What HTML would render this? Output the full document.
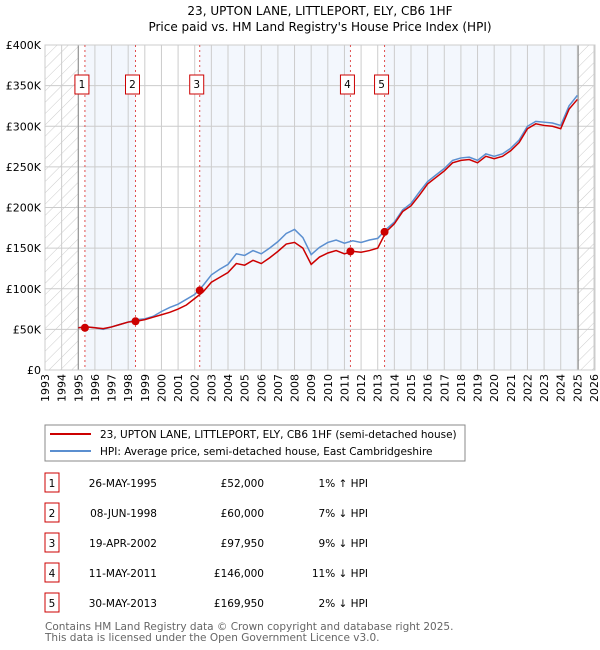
<!DOCTYPE html>
<html><head><meta charset="utf-8"><style>
body{margin:0;width:600px;height:650px;background:#fff;font-family:"DejaVu Sans","Liberation Sans",sans-serif;overflow:hidden}
svg{position:absolute;left:0;top:0}
</style></head><body>
<svg id="c" width="600" height="650">
<text x="320" y="15" text-anchor="middle" font-size="12">23, UPTON LANE, LITTLEPORT, ELY, CB6 1HF</text>
<text x="320" y="31" text-anchor="middle" font-size="12">Price paid vs. HM Land Registry's House Price Index (HPI)</text>
<defs><pattern id="hatch" width="8" height="8" patternUnits="userSpaceOnUse" patternTransform="rotate(45)"><line x1="0" y1="0" x2="0" y2="8" stroke="#ccc" stroke-width="1"/></pattern></defs>
<g id="plot"></g>
<rect x="45" y="425" width="420" height="36" fill="#fff" stroke="#888"/>
<line x1="50" y1="434" x2="91" y2="434" stroke="#cc0000" stroke-width="2"/>
<text x="100" y="438" font-size="10.5">23, UPTON LANE, LITTLEPORT, ELY, CB6 1HF (semi-detached house)</text>
<line x1="50" y1="451" x2="91" y2="451" stroke="#5b8fd0" stroke-width="2"/>
<text x="100" y="455" font-size="10.5">HPI: Average price, semi-detached house, East Cambridgeshire</text>
<g id="table" font-size="10.5"></g>
<text x="45" y="630" font-size="10.5" fill="#666">Contains HM Land Registry data © Crown copyright and database right 2025.</text>
<text x="45" y="641" font-size="10.5" fill="#666">This data is licensed under the Open Government Licence v3.0.</text>
</svg>
<script>
const years=[1995,1995.5,1996,1996.5,1997,1997.5,1998,1998.5,1999,1999.5,2000,2000.5,2001,2001.5,2002,2002.5,2003,2003.5,2004,2004.5,2005,2005.5,2006,2006.5,2007,2007.5,2008,2008.5,2009,2009.5,2010,2010.5,2011,2011.5,2012,2012.5,2013,2013.5,2014,2014.5,2015,2015.5,2016,2016.5,2017,2017.5,2018,2018.5,2019,2019.5,2020,2020.5,2021,2021.5,2022,2022.5,2023,2023.5,2024,2024.5,2025];
const hpi=[52,53,52,50,53,56,59,62,63,66,72,77,81,87,93,104,117,124,130,143,141,147,143,150,158,168,173,163,142,151,157,160,156,159,157,160,162,173,182,197,205,219,232,240,248,258,261,262,258,266,263,266,273,283,300,306,305,304,301,325,338];
const price=[52,53,52,51,53,56,59,60,62,65,68,71,75,80,88,96,108,114,120,131,129,135,131,138,146,155,157,150,130,139,144,147,143,146,145,147,150,170,180,195,202,215,229,237,245,255,258,259,255,263,260,263,270,280,297,303,301,300,297,321,333];
const saleYears=[1995.4,1998.44,2002.3,2011.36,2013.41];
const salePrices=[52,60,97.95,146,169.95];
const saleDates=["26-MAY-1995","08-JUN-1998","19-APR-2002","11-MAY-2011","30-MAY-2013"];
const saleLabels=["£52,000","£60,000","£97,950","£146,000","£169,950"];
const saleDiffs=["1% ↑ HPI","7% ↓ HPI","9% ↓ HPI","11% ↓ HPI","2% ↓ HPI"];
const yTicks=[0,50,100,150,200,250,300,350,400];
const NS="http://www.w3.org/2000/svg";
const X=y=>45+(y-1993)*549/33, Y=v=>370-v*325/400;
const g=document.getElementById('plot');
function mk(t,a,p){const e=document.createElementNS(NS,t);for(const k in a)e.setAttribute(k,a[k]);(p||g).appendChild(e);return e;}
let r;
r=mk('rect',{x:45,y:Y(400),width:X(1995)-45,height:Y(0)-Y(400),fill:'url(#hatch)'});

r=mk('rect',{x:X(2025.05),y:Y(400),width:595-X(2025.05),height:Y(0)-Y(400),fill:'url(#hatch)'});

const bands=[[0,1],[2,3],[4,null]];
bands.forEach(b=>{const x1=X(saleYears[b[0]]),x2=b[1]===null?X(2025.05):X(saleYears[b[1]]);
r=mk('rect',{x:x1,y:Y(400),width:x2-x1,height:Y(0)-Y(400),fill:'#eef3fc',opacity:0.7});
});
for(let y=1993;y<=2026;y++){r=mk('line',{x1:X(y),x2:X(y),y1:Y(400),y2:Y(0),stroke:'#ccc'});

const tx=X(y)+4, ty=Y(0)+4;
r=mk('text',{x:tx,y:ty,'text-anchor':'end','font-size':11,transform:'rotate(-90 '+tx+' '+ty+')'});r.textContent=y;
}
yTicks.forEach(v=>{r=mk('line',{x1:45,x2:595,y1:Y(v),y2:Y(v),stroke:'#ccc'});

r=mk('text',{x:41,y:Y(v)+4,'text-anchor':'end','font-size':11});r.textContent=v===0?'£0':'£'+v+'K';
});
r=mk('line',{x1:X(1995),x2:X(1995),y1:Y(400),y2:Y(0),stroke:'#888'});
r=mk('line',{x1:X(2025.05),x2:X(2025.05),y1:Y(400),y2:Y(0),stroke:'#888'});
r=mk('rect',{x:45,y:Y(400),width:550,height:Y(0)-Y(400),fill:'none',stroke:'#ccc'});
saleYears.forEach((s,i)=>{r=mk('line',{x1:X(s),x2:X(s),y1:Y(400),y2:Y(0),stroke:'#e05050','stroke-dasharray':'2,3'});

r=mk('rect',{x:X(s)-10,y:75,width:14,height:19,fill:'#fff',stroke:'#cc0000'});

r=mk('text',{x:X(s)-3,y:88,'text-anchor':'middle','font-size':10.5});r.textContent=i+1;
});
function pts(a){return years.map((y,i)=>X(y)+','+Y(a[i])).join(' ');}
r=mk('polyline',{points:pts(hpi),fill:'none',stroke:'#5b8fd0','stroke-width':1.5});

r=mk('polyline',{points:pts(price),fill:'none',stroke:'#cc0000','stroke-width':1.5});

saleYears.forEach((s,i)=>{r=mk('circle',{cx:X(s),cy:Y(salePrices[i]),r:4,fill:'#cc0000'});
});
const tb=document.getElementById('table');
saleDates.forEach((d,i)=>{const cy=483+i*30;
r=mk('rect',{x:45,y:cy-10,width:14,height:19,fill:'#fff',stroke:'#cc0000'},tb);
r=mk('text',{x:52,y:cy+4,'text-anchor':'middle'},tb);r.textContent=i+1;
r=mk('text',{x:157,y:cy+4,'text-anchor':'end'},tb);r.textContent=d;
r=mk('text',{x:264,y:cy+4,'text-anchor':'end'},tb);r.textContent=saleLabels[i];
r=mk('text',{x:368,y:cy+4,'text-anchor':'end'},tb);r.textContent=saleDiffs[i];});
</script>
</body></html>
